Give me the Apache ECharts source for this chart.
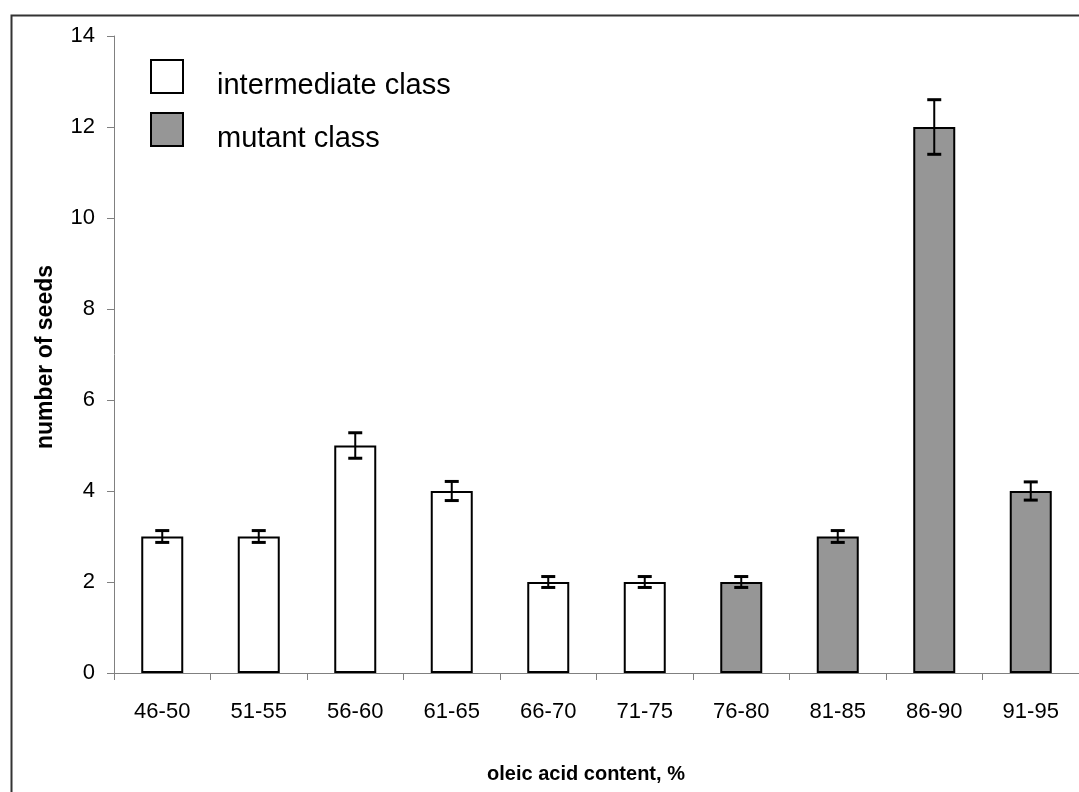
<!DOCTYPE html>
<html>
<head>
<meta charset="utf-8">
<script src="https://cdn.jsdelivr.net/npm/echarts@6/dist/echarts.min.js"></script>
<style>
html,body{margin:0;padding:0;background:#fff;}
#chart{width:1079px;height:792px;}
</style>
</head>
<body>
<div id="chart"></div>
<script>
const categories = ['46-50','51-55','56-60','61-65','66-70','71-75','76-80','81-85','86-90','91-95'];
const intermediateValues = [3, 3, 5, 4, 2, 2, '-', '-', '-', '-'];
const mutantValues = ['-', '-', '-', '-', '-', '-', 2, 3, 12, 4];
const allValues = [3, 3, 5, 4, 2, 2, 2, 3, 12, 4];
const errors = [0.13, 0.13, 0.28, 0.21, 0.12, 0.12, 0.12, 0.13, 0.6, 0.2];
const yTicks = {min: 0, max: 14, interval: 2};
const seriesNames = ['intermediate class', 'mutant class'];
const xTitle = 'oleic acid content, %';
const yTitle = 'number of seeds';

const errData = allValues.map((v, i) => [i, v - errors[i], v + errors[i]]);

const chart = echarts.init(document.getElementById('chart'), null, {renderer: 'canvas'});
const font = 'Liberation Sans, Arial, sans-serif';

chart.setOption({
  backgroundColor: '#fff',
  animation: false,
  textStyle: {fontFamily: font},
  grid: {left: 114, right: -9, top: 36, bottom: 119, containLabel: false},
  legend: {
    orient: 'vertical',
    left: 150, top: 59, padding: 0,
    itemWidth: 32, itemHeight: 33, itemGap: 12,
    icon: 'rect',
    data: seriesNames,
    formatter: '{a|{name}}',
    textStyle: {
      fontSize: 29, color: '#000', fontFamily: font,
      rich: {a: {fontSize: 29, color: '#000', fontFamily: font, padding: [18, 0, 0, 29]}}
    }
  },
  xAxis: {
    type: 'category',
    data: categories,
    axisLine: {lineStyle: {color: '#808080', width: 1}},
    axisTick: {show: true, length: 7, lineStyle: {color: '#808080'}},
    axisLabel: {fontSize: 22, color: '#000', margin: 28, fontFamily: font},
    splitLine: {show: false}
  },
  yAxis: {
    type: 'value',
    min: yTicks.min, max: yTicks.max, interval: yTicks.interval,
    axisLine: {show: true, lineStyle: {color: '#808080', width: 1}},
    axisTick: {show: true, length: 7, lineStyle: {color: '#808080'}},
    axisLabel: {fontSize: 22, color: '#000', margin: 19, fontFamily: font},
    splitLine: {show: false}
  },
  graphic: [
    {type: 'rect', left: 9, top: 13, shape: {width: 1100, height: 800}, silent: true,
     style: {fill: 'none', stroke: '#333', lineWidth: 2}},
    {type: 'text', x: 46, y: 357, rotation: Math.PI / 2,
     style: {text: yTitle, fontSize: 23, fontWeight: 'bold', fill: '#000', fontFamily: font,
             align: 'center', verticalAlign: 'middle'}},
    {type: 'text', x: 586, y: 774,
     style: {text: xTitle, fontSize: 20, fontWeight: 'bold', fill: '#000', fontFamily: font,
             align: 'center', verticalAlign: 'middle'}}
  ],
  series: [
    {
      name: seriesNames[0], type: 'bar', data: intermediateValues,
      barWidth: 42, barGap: '-100%',
      itemStyle: {color: '#ffffff', borderColor: '#000', borderWidth: 2}
    },
    {
      name: seriesNames[1], type: 'bar', data: mutantValues,
      barWidth: 42, barGap: '-100%',
      itemStyle: {color: '#969696', borderColor: '#000', borderWidth: 2}
    },
    {
      name: 'error', type: 'custom', data: errData,
      encode: {x: 0, y: [1, 2]},
      z: 10,
      renderItem: function (params, api) {
        const i = api.value(0);
        const lo = api.coord([i, api.value(1)]);
        const hi = api.coord([i, api.value(2)]);
        const hw = 7;
        return {
          type: 'group',
          children: [
            {type: 'line', shape: {x1: lo[0], y1: lo[1], x2: hi[0], y2: hi[1]},
             style: {stroke: '#000', lineWidth: 2}},
            {type: 'line', shape: {x1: lo[0] - hw, y1: lo[1], x2: lo[0] + hw, y2: lo[1]},
             style: {stroke: '#000', lineWidth: 3}},
            {type: 'line', shape: {x1: hi[0] - hw, y1: hi[1], x2: hi[0] + hw, y2: hi[1]},
             style: {stroke: '#000', lineWidth: 3}}
          ]
        };
      }
    }
  ]
});
</script>
</body>
</html>
